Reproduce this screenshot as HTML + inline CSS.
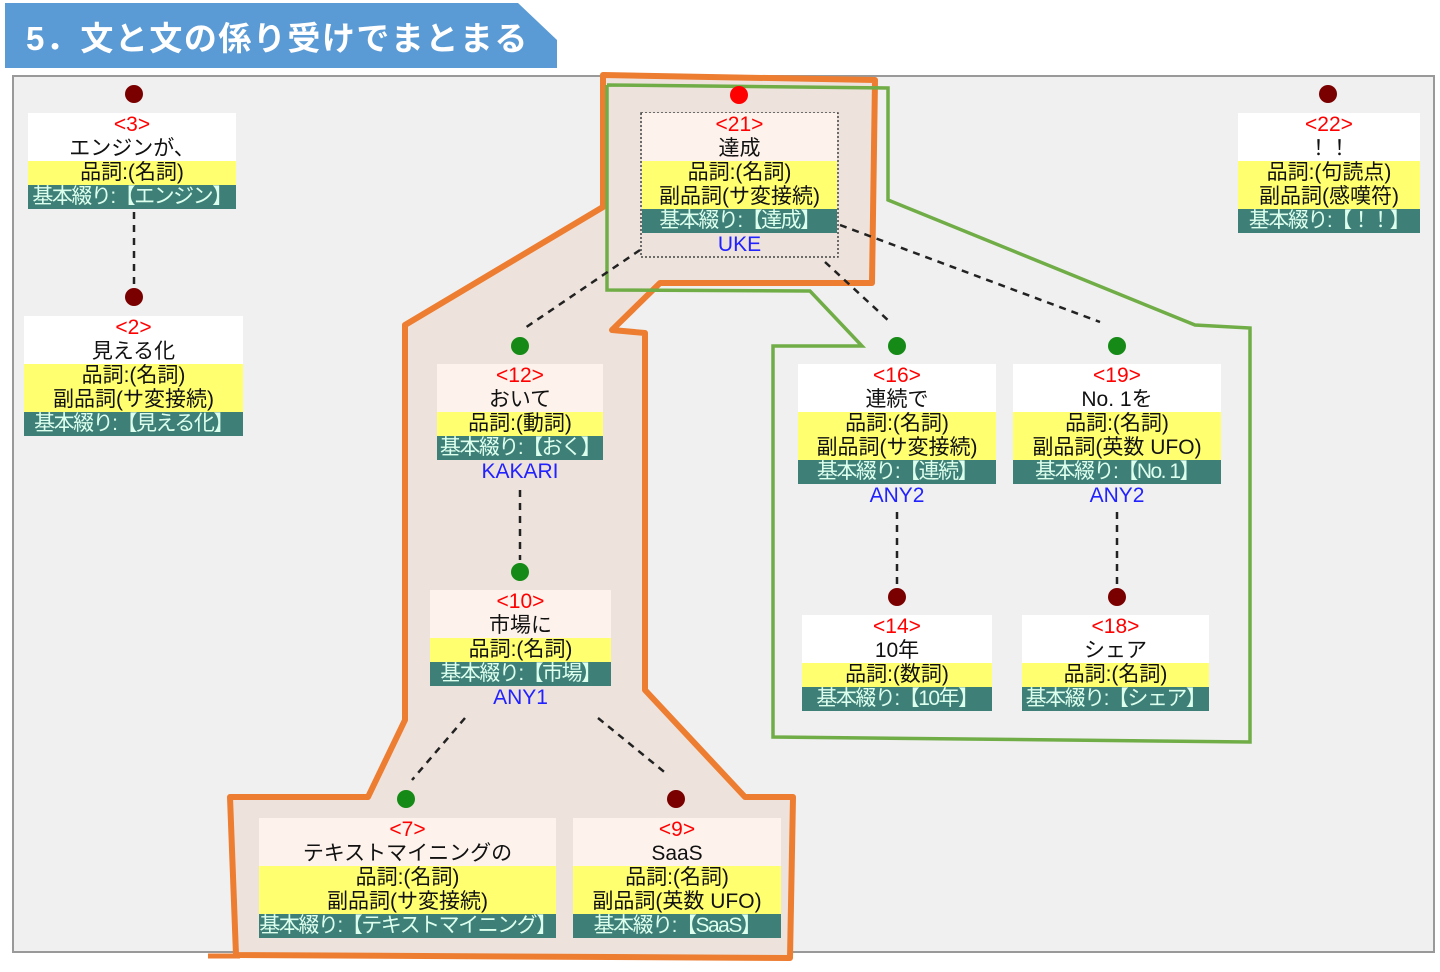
<!DOCTYPE html>
<html><head><meta charset="utf-8"><style>
body{margin:0;width:1440px;height:972px;background:#fff;position:relative;overflow:hidden;font-family:"Liberation Sans","Noto Sans CJK JP",sans-serif}
.n{position:absolute;text-align:center;font-size:21px;line-height:24px;color:#111}
.n div{white-space:nowrap;overflow:hidden}
.w{background:#fff}
.p{background:#fdf3ec}
.id{color:#f00}
.y{background:#ffff70}
.t{background:#3e7f78;color:#dfe;letter-spacing:-1.5px}
.l{color:#22f}
.d{position:absolute;width:18px;height:18px;border-radius:50%}
.r{background:#7a0000}.g{background:#168a16}
</style></head><body>
<svg width="1440" height="972" style="position:absolute;left:0;top:0">
<path d="M5 3 H518 L557 40 V68 H5 Z" fill="#5b9bd5"/>
<rect x="13" y="76" width="1421" height="876" fill="#f0f0f0" stroke="#999" stroke-width="2"/>
<polygon points="603,75 875,80 872,283 660,283 612,330 645,333 645,690 745,797 793,797 790,958 236,955 230,797 368,797 405,720 405,325 603,207" fill="#eee3dc" stroke="#ed7d31" stroke-width="6" stroke-linejoin="round"/>
<line x1="208" y1="956" x2="240" y2="956" stroke="#ed7d31" stroke-width="5"/>
<polyline points="607,85 888,88 888,200 1195,325 1250,328 1250,742 773,737 773,346 862,346 810,291 607,290 607,85" fill="none" stroke="#70ad47" stroke-width="3.5"/>
<g stroke="#222" stroke-width="2.5" stroke-dasharray="7,6" fill="none">
<line x1="134" y1="212" x2="134" y2="290"/>
<line x1="640" y1="250" x2="522" y2="330"/>
<line x1="825" y1="262" x2="890" y2="322"/>
<line x1="840" y1="225" x2="1100" y2="322"/>
<line x1="520" y1="490" x2="520" y2="560"/>
<line x1="465" y1="718" x2="412" y2="780"/>
<line x1="598" y1="718" x2="668" y2="775"/>
<line x1="897" y1="512" x2="897" y2="590"/>
<line x1="1117" y1="512" x2="1117" y2="590"/>
</g>
<rect x="641" y="113" width="197" height="144" fill="none" stroke="#444" stroke-width="1.5" stroke-dasharray="2,2"/>
<text x="26" y="50" fill="#fff" font-size="33" font-weight="bold" letter-spacing="1.5" font-family="Liberation Sans,Noto Sans CJK JP,sans-serif">5．文と文の係り受けでまとまる</text>
</svg>

<div class="d r" style="left:125px;top:85px"></div>
<div class="n" style="left:28px;top:113px;width:208px"><div class="w id">&lt;3&gt;</div><div class="w">エンジンが、</div><div class="y">品詞:(名詞)</div><div class="t">基本綴り:【エンジン】</div></div>

<div class="d r" style="left:125px;top:288px"></div>
<div class="n" style="left:24px;top:316px;width:219px"><div class="w id">&lt;2&gt;</div><div class="w">見える化</div><div class="y">品詞:(名詞)<br>副品詞(サ変接続)</div><div class="t">基本綴り:【見える化】</div></div>

<div class="d" style="left:730px;top:86px;background:#f00"></div>
<div class="n" style="left:642px;top:113px;width:195px"><div class="p id">&lt;21&gt;</div><div class="p">達成</div><div class="y">品詞:(名詞)<br>副品詞(サ変接続)</div><div class="t">基本綴り:【達成】</div><div class="l">UKE</div></div>

<div class="d r" style="left:1319px;top:85px"></div>
<div class="n" style="left:1238px;top:113px;width:182px"><div class="w id">&lt;22&gt;</div><div class="w">！！</div><div class="y">品詞:(句読点)<br>副品詞(感嘆符)</div><div class="t">基本綴り:【！！】</div></div>

<div class="d g" style="left:511px;top:337px"></div>
<div class="n" style="left:437px;top:364px;width:166px"><div class="p id">&lt;12&gt;</div><div class="p">おいて</div><div class="y">品詞:(動詞)</div><div class="t">基本綴り:【おく】</div><div class="l">KAKARI</div></div>

<div class="d g" style="left:511px;top:563px"></div>
<div class="n" style="left:430px;top:590px;width:181px"><div class="p id">&lt;10&gt;</div><div class="p">市場に</div><div class="y">品詞:(名詞)</div><div class="t">基本綴り:【市場】</div><div class="l">ANY1</div></div>

<div class="d g" style="left:888px;top:337px"></div>
<div class="n" style="left:798px;top:364px;width:198px"><div class="w id">&lt;16&gt;</div><div class="w">連続で</div><div class="y">品詞:(名詞)<br>副品詞(サ変接続)</div><div class="t">基本綴り:【連続】</div><div class="l">ANY2</div></div>

<div class="d g" style="left:1108px;top:337px"></div>
<div class="n" style="left:1013px;top:364px;width:208px"><div class="w id">&lt;19&gt;</div><div class="w">No. 1を</div><div class="y">品詞:(名詞)<br>副品詞(英数 UFO)</div><div class="t">基本綴り:【No. 1】</div><div class="l">ANY2</div></div>

<div class="d r" style="left:888px;top:588px"></div>
<div class="n" style="left:802px;top:615px;width:190px"><div class="w id">&lt;14&gt;</div><div class="w">10年</div><div class="y">品詞:(数詞)</div><div class="t">基本綴り:【10年】</div></div>

<div class="d r" style="left:1108px;top:588px"></div>
<div class="n" style="left:1022px;top:615px;width:187px"><div class="w id">&lt;18&gt;</div><div class="w">シェア</div><div class="y">品詞:(名詞)</div><div class="t">基本綴り:【シェア】</div></div>

<div class="d g" style="left:397px;top:790px"></div>
<div class="n" style="left:259px;top:818px;width:297px"><div class="p id">&lt;7&gt;</div><div class="p">テキストマイニングの</div><div class="y">品詞:(名詞)<br>副品詞(サ変接続)</div><div class="t">基本綴り:【テキストマイニング】</div></div>

<div class="d r" style="left:667px;top:790px"></div>
<div class="n" style="left:573px;top:818px;width:208px"><div class="p id">&lt;9&gt;</div><div class="p">SaaS</div><div class="y">品詞:(名詞)<br>副品詞(英数 UFO)</div><div class="t">基本綴り:【SaaS】</div></div>
</body></html>
